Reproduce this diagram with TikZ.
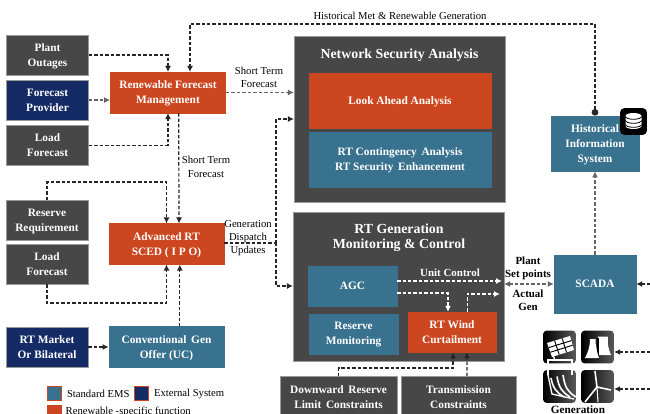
\documentclass[tikz,border=0pt]{standalone}
\usepackage{fontspec}
\setmainfont{Liberation Serif}
\usetikzlibrary{arrows.meta,positioning,calc,shapes.geometric}
\definecolor{boxgrey}{HTML}{474747}
\definecolor{boxnavy}{HTML}{152B66}
\definecolor{boxred}{HTML}{CC4720}
\definecolor{boxteal}{HTML}{39728F}
\begin{document}
\begin{tikzpicture}[x=0.75pt,y=-0.75pt,
        box/.style={align=center, inner sep=0pt, text=white, text depth=0pt, draw=white!60!black, line width=0.3pt,
          font=\bfseries\fontsize{8.5}{11.25}\selectfont},
        grey/.style={box, fill=boxgrey},
        navy/.style={box, fill=boxnavy},
        red/.style={box, fill=boxred, draw=boxred},
        teal/.style={box, fill=boxteal, draw=boxteal},
        side/.style={minimum width=61.5pt, minimum height=30pt},
        mid/.style={minimum width=86.5pt, minimum height=30.5pt},
        lab/.style={align=center, inner sep=0pt, text=black, font=\fontsize{8}{10}\selectfont},
        blab/.style={lab, font=\bfseries\fontsize{8.2}{9.75}\selectfont},
        dl/.style={dash pattern=on 2.6pt off 1.5pt, line width=0.9pt, black!85, -{Latex[length=4.5pt,width=4.5pt]}},
        gl/.style={dl, black!60},
        wl/.style={dl, white},
        key/.style={draw=boxred, line width=0.6pt, minimum size=10.5pt, inner sep=0pt},
        ico/.style={rounded corners=2.5pt, minimum size=24.5pt, inner sep=0pt, left color=black, right color=black!65}
        ]
        \useasboundingbox (0,0) rectangle (650,414);
        % left column
        \node[grey, side] (pout) at (47.5,55) {Plant\\Outages};
        \node[navy, side] (fprov) [below=3.5pt of pout] {Forecast\\Provider};
        \node[grey, side] (lfa) [below=3.5pt of fprov] {Load\\Forecast};
        \node[grey, side] (rreq) at (47,220.5) {Reserve\\Requirement};
        \node[grey, side] (lfb) [below=2.5pt of rreq] {Load\\Forecast};
        \node[navy, side] (mkt) at (47,347) {RT Market\\Or Bilateral};
        % middle column
        \node[red, mid] (rfm) at (168,92.5) {Renewable Forecast\\Management};
        \node[red, mid] (sced) at (166.5,244) {Advanced RT\\SCED ( I P O)};
        \node[teal, mid] (conv) at (166.5,347) {Conventional\, Gen\\Offer (UC)};
        % network security
        \node[grey, minimum width=158pt, minimum height=124.5pt] (nsa) at (399.5,119) {};
        \node[text=white, inner sep=0pt, font=\bfseries\fontsize{10.4}{11}\selectfont] (nsat) at (399.5,55) {Network Security Analysis};
        \node[red, minimum width=136.5pt, minimum height=41pt] (look) at (400,100.5) {Look Ahead Analysis};
        \node[teal, minimum width=136.5pt, minimum height=41pt] (cont) at (400,159.5) {RT Contingency\, Analysis\\RT Security\, Enhancement};
        % generation control
        \node[grey, minimum width=158pt, minimum height=112pt] (gen) at (398.5,286.5) {};
        \node[text=white, align=center, inner sep=0pt, font=\bfseries\fontsize{10.4}{11.25}\selectfont] (gent) at (399,237.5) {RT Generation\\Monitoring \& Control};
        \node[teal, minimum width=66.5pt, minimum height=30pt] (agc) at (352.5,286) {AGC};
        \node[teal, minimum width=66.5pt, minimum height=30pt] (rmon) [below=5.5pt of agc.south east, anchor=north east, xshift=0.8pt] {Reserve\\Monitoring};
        \node[red, minimum width=66pt, minimum height=30pt] (wind) at (452,332) {RT Wind\\Curtailment};
        \node[grey, minimum width=87.5pt, minimum height=31pt] (dres) at (338.5,397) {Downward\, Reserve\\Limit\, Constraints};
        \node[grey, minimum width=86pt, minimum height=31pt] (tran) at (458.5,397) {Transmission\\Constraints};
        % right column
        \node[teal, minimum width=66pt, minimum height=41.5pt] (his) at (595,143.5) {Historical\\Information\\System};
        \node[teal, minimum width=61.5pt, minimum height=43.5pt] (scada) at (595,284) {SCADA};
        \node[ico, minimum size=20pt, rounded corners=3pt, left color=black, right color=black] (db) at (633.5,121.5) {};
        \fill[white] (625.5,116) -- (625.5,126) arc[start angle=180, end angle=0, x radius=8, y radius=3] -- (641.5,116) arc[start angle=0, end angle=-180, x radius=8, y radius=3] -- cycle;
        \foreach \yy in {116.5,120.5,124.5}
          \draw[black, line width=0.6pt] (625.5,\yy) arc[start angle=180, end angle=0, x radius=8, y radius=2.8];
        % generation icons
        \node[ico] (sol) at (559.5,347) {};
        \node[ico] (pla) at (597.5,347) {};
        \node[ico] (hyd) at (559.5,386.5) {};
        \node[ico] (tur) at (597.5,386.5) {};
        \node[inner sep=0pt, font=\bfseries\fontsize{8.4}{9}\selectfont] (gtxt) at (578,409.3) {Generation};
        % solar panel
        \fill[white] (547,343) -- (570,336) -- (574,350) -- (552,357) -- cycle;
        \draw[white, line width=1pt] (550,345) -- (555,361);
        \foreach \ff in {0.33,0.66}
          \draw[black, line width=0.7pt] ($(547,343)!\ff!(570,336)$) -- ($(552,357)!\ff!(574,350)$);
        \foreach \ff in {0.33,0.66}
          \draw[black, line width=0.7pt] ($(547,343)!\ff!(552,357)$) -- ($(570,336)!\ff!(574,350)$);
        % cooling towers
        \fill[white] (598,336.5) -- (608,336.5) .. controls (607,345) and (609,350) .. (611,355) -- (596,355) -- cycle;
        \fill[black] (597,338) rectangle (598.5,359);
        \fill[white] (590,339) -- (595.5,339) .. controls (595.5,347) and (597,352) .. (599,358) -- (585,358) .. controls (588,352) and (590,347) .. (590,339) -- cycle;
        % hydro
        \draw[white, line width=1pt] (548,375) -- (548,360) -- (572,360) -- (572,375);
        \foreach \dx in {0,6,12}
          \draw[white, line width=1.2pt] (551+\dx,378-\dx/4) .. controls (553+\dx,388) and (556+\dx,392) .. (564+\dx,397);
        \draw[white, line width=1pt] (548,375) -- (552,394) -- (574,399);
        % wind turbine
        \draw[white, line width=0.8pt] (597,387) -- (598,402);
        \draw[white, line width=1.2pt] (585,402) -- (597,387) -- (595,371);
        \draw[white, line width=1.2pt] (597,387) -- (611,390);
        % legend
        \node[key, fill=boxteal] (kteal) at (54,393.5) {};
        \node[lab, anchor=west] (kteal_t) [right=4pt of kteal] {Standard EMS};
        \node[key, fill=boxnavy] (knavy) at (141,393.5) {};
        \node[lab, anchor=west] (knavy_t) [right=4pt of knavy] {External System};
        \node[key, fill=boxred] (kred) at (54,412) {};
        \node[lab, anchor=west] (kred_t) [right=3pt of kred] {Renewable -specific function};
        % labels
        \node[lab] (hlab) at (400,16) {Historical Met \& Renewable Generation};
        \node[lab] (sta) at (259,77.5) {Short Term\\Forecast};
        \node[lab] (stb) at (206,167) {Short Term\\Forecast};
        \node[lab] (gdu) at (248,238) {Generation\\Dispatch\\Updates};
        \node[blab] (pset) at (528,268.5) {Plant\\Set points};
        \node[blab] (agen) at (528,300.5) {Actual\\Gen};
        \node[blab, text=white] (uctl) at (450,273) {Unit Control};
        % free ends
        \coordinate (htop) at (190,24);
        \coordinate (gsw) at (276,243);
        \coordinate (rtop) at (47,182);
        \coordinate (lbot) at (47,303);
        \coordinate (ghi) at (276,119);
        \coordinate (glo) at (276,286);
        \coordinate (ea) at (650,284);
        \coordinate (eb) at (650,352);
        \coordinate (ec) at (650,389);
        \coordinate (uend) at (502,281);
        \coordinate (wend) at (500,294);
        \coordinate (jres) at (453,368);
        % connectors
        \draw[dl] (pout.east) -| (rfm.north);
        \draw[gl] (fprov.east) -- (rfm.west |- fprov.east);
        \draw[dl] (lfa.east) -| (rfm.south);
        \draw[gl] (rfm.east) -- (nsa.west |- rfm.east);
        \draw[dl] ([xshift=8pt]rfm.south) -- ([xshift=9.4pt]sced.north);
        \draw[dl] (rreq.north -| rtop) -- (rtop) -| (sced.north);
        \draw[dl] (lfb.south -| lbot) -- (lbot) -| (sced.south);
        \draw[dl] ([xshift=10pt]conv.north) -- ([xshift=10pt]sced.south);
        \draw[dl] (mkt.east) -- (conv.west);
        \draw[dl, -] (sced.east |- gsw) -- (gsw);
        \draw[dl] (gsw) -- (ghi) -- (nsa.west |- ghi);
        \draw[dl] (gsw) -- (glo) -- (gen.west |- glo);
        \draw[dl, {Circle[length=5pt]}-{Latex[length=4.5pt,width=4.5pt]}] (his.north) -- (his.north |- htop) -- (htop) -- (htop |- rfm.north);
        \draw[gl] (scada.north) -- (his.south);
        \draw[gl, {Latex[length=4.5pt,width=4.5pt]}-{Latex[length=4.5pt,width=4.5pt]}] (gen.east |- scada.west) -- (scada.west);
        \draw[dl] (ea) -- (scada.east);
        \draw[dl] (eb) -- (pla.east |- eb);
        \draw[dl] (ec) -- (tur.east |- ec);
        \draw[wl] ([yshift=3.75pt]agc.east) -- (uend);
        \draw[wl] ([yshift=-5.25pt]agc.east) -| ([xshift=-3pt]wind.north);
        \draw[wl] ([xshift=11.5pt]wind.north) |- (wend);
        \draw[dl] (dres.north) |- (jres) -- ([xshift=0.75pt]wind.south);
        \draw[dl] ([xshift=6.4pt]tran.north) -- ([xshift=11.25pt]wind.south);
\end{tikzpicture}
\end{document}
